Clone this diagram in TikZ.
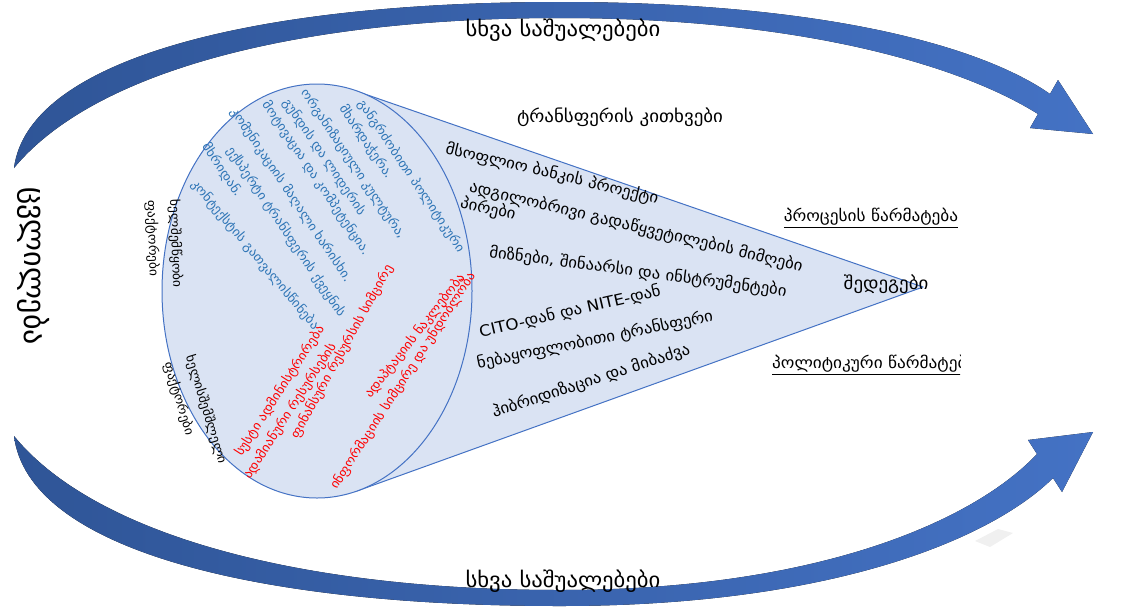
\documentclass[tikz,border=0pt]{standalone}
\usepackage{fontspec}
\setmainfont{DejaVu Sans}[FakeStretch=1.08]
\newfontfamily\bigfont{DejaVu Sans}
\begin{document}
\begin{tikzpicture}[x=1pt,y=-1pt,
  bandfill/.style={left color=arrowdark, right color=arrowlight, draw=none},
  conetext/.style={font=\fontsize{15.5}{17}\selectfont, inner sep=0pt},
  outcome/.style={font=\fontsize{16}{18}\selectfont, inner sep=0pt},
  pluslabel/.style={font=\fontsize{12.5}{14}\selectfont, text=factorblue, inner sep=0pt, rotate=-56},
  minuslabel/.style={font=\fontsize{12.5}{14}\selectfont, text=factorred, inner sep=0pt, rotate=57},
  sidelabel/.style={font=\fontsize{12.5}{23}\selectfont, align=left, inner sep=0pt},
  meanslabel/.style={font=\fontsize{21}{23}\selectfont, inner sep=0pt}]
\definecolor{arrowdark}{RGB}{47,85,151}
\definecolor{arrowlight}{RGB}{68,114,196}
\definecolor{conefill}{RGB}{218,227,243}
\definecolor{coneline}{RGB}{68,114,196}
\definecolor{factorblue}{RGB}{46,117,182}
\definecolor{factorred}{RGB}{255,0,0}
\useasboundingbox (0,0) rectangle (1123,608);

% upper curved arrow
\fill[bandfill] (14,168) .. controls (28,60) and (250,2) .. (560,2)
  .. controls (820,2) and (980,45) .. (1050,94)
  -- (1058,80) -- (1093,134) -- (1030,128) -- (1038,114)
  .. controls (960,65) and (800,18) .. (560,18)
  .. controls (300,18) and (95,70) .. cycle;

% lower curved arrow
\fill[bandfill] (14,436) .. controls (28,548) and (250,606) .. (560,606)
  .. controls (830,606) and (990,540) .. (1053,478)
  -- (1062,492) -- (1093,432) -- (1028,440) -- (1037,454)
  .. controls (975,520) and (820,590) .. (560,590)
  .. controls (300,590) and (95,535) .. cycle;

% cone and base ellipse
\draw[coneline, fill=conefill, line width=1pt, line join=round]
  (356,91) -- (923,287) -- (357,491) -- cycle;
\draw[coneline, fill=conefill, line width=1pt]
  (317,291) ellipse [x radius=155, y radius=207];

% faint mark at lower right
\fill[black!6] (975,541) -- (998,529) -- (1013,533) -- (990,547) -- cycle;

% labels on the arrows
\node[meanslabel] (topmeans) at (563,30) {სხვა საშუალებები};
\node[meanslabel] (botmeans) at (563,581) {სხვა საშუალებები};
\node[font=\bigfont\fontsize{30}{34}\selectfont, rotate=-90, inner sep=0pt] (change) at (34,266) {ცვლილება};

% transfer questions
\node[font=\fontsize{17.5}{19}\selectfont, inner sep=0pt] (questions) at (620,117) {ტრანსფერის კითხვები};
\node[conetext, rotate=-13.5] (q1) at (552,174) {მსოფლიო ბანკის პროექტი};
\node[conetext, rotate=-13.5] (q2) at (636,227) {ადგილობრივი გადაწყვეტილების მიმღები};
\node[conetext, rotate=-13] (q2b) at (488,209) {პირები};
\node[conetext, rotate=-7.5] (q3) at (638,272) {მიზნები, შინაარსი და ინსტრუმენტები};
\node[conetext, rotate=13] (q4) at (570,312) {CITO-დან და NITE-დან};
\node[conetext, rotate=11.5] (q5) at (595,340) {ნებაყოფლობითი ტრანსფერი};
\node[conetext, rotate=18] (q6) at (591,381) {ჰიბრიდიზაცია და მიბაძვა};

% outcomes
\node[font=\fontsize{17.5}{19}\selectfont, inner sep=0pt] (results) at (886,284) {შედეგები};
\node[outcome] (procsuccess) at (871,218) {\underline{პროცესის წარმატება}};
\begin{scope}
  \clip (700,340) rectangle (960,390);
  \node[outcome, anchor=west] (polsuccess) at (772,365) {\underline{პოლიტიკური წარმატება}};
\end{scope}

% factor group captions
\node[sidelabel, rotate=-88] (helpcap) at (164,244) {ხელშემწყობი\\ფაქტორები};
\node[sidelabel, rotate=-73] (hindercap) at (195,413) {ხელისშემშლელი\\ფაქტორები};

% facilitating factors
\node[pluslabel] (f1) at (411,176) {განგრძობითი პოლიტიკური};
\node[pluslabel] (f1b) at (366,142) {მხარდაჭერა.};
\node[pluslabel] (f2) at (353,164) {ორგანიზაციული კულტურა,};
\node[pluslabel] (f3) at (324,157) {გუნდის და ლიდერის};
\node[pluslabel] (f3b) at (316,178) {მოტივაცია და კომპეტენცია.};
\node[pluslabel] (f4) at (291,195) {კომუნიკაციის მაღალი ხარისხი.};
\node[pluslabel] (f5) at (286,232) {ექსპერტი ტრანსფერის ქვეყნის};
\node[pluslabel] (f5b) at (222,170) {მხრიდან.};
\node[pluslabel, rotate=6] (f6) at (255,255) {კონტექსტის გათვალისწინება};

% hindering factors
\node[minuslabel] (h1) at (280,391) {სუსტი ადმინისტრირება};
\node[minuslabel] (h1b) at (290,411) {ადამიანური რესურსების};
\node[minuslabel, rotate=4] (h2) at (342,352) {ფინანსური რესურსის სიმცირე};
\node[minuslabel, rotate=-5] (h3) at (415,336) {ადაპტაციის ნაკლებობა};
\node[minuslabel] (h3b) at (403,381) {ინფორმაციის სიმცირე და უნდობლობა};
\end{tikzpicture}
\end{document}
